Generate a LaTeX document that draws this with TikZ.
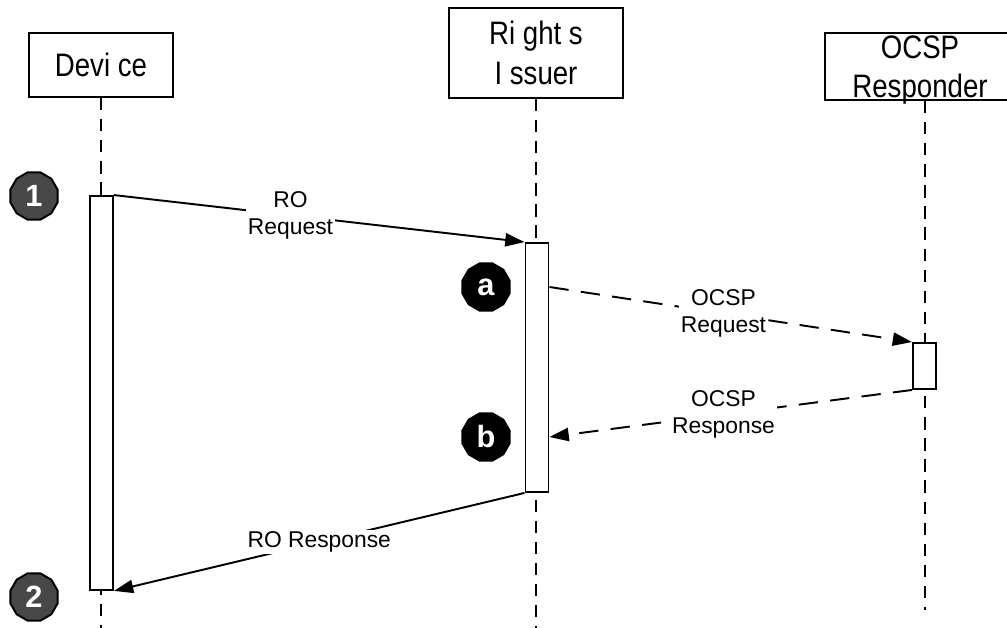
\documentclass[tikz,border=0pt]{standalone}
\usepackage{fontspec}
\setmainfont{Liberation Sans}
\newfontfamily\narrowsans[FakeStretch=0.85]{Liberation Sans}
\usetikzlibrary{arrows.meta,shapes.geometric}

\begin{document}
\begin{tikzpicture}[x=0.02cm,y=-0.02cm,line width=1.1pt,
  party/.style={draw,rectangle,inner sep=0pt,align=center,
    font=\narrowsans\fontsize{18.5}{22.7}\selectfont},
  bar/.style={draw,fill=white,rectangle,inner sep=0pt,minimum width=0.46cm},
  lifeline/.style={dash pattern=on 7pt off 5pt},
  msg/.style={-{Triangle[length=11pt,width=7.5pt]}},
  reply/.style={msg,dash pattern=on 11pt off 7pt},
  msglabel/.style={fill=white,inner sep=1pt,align=center,
    font=\fontsize{13}{15}\selectfont},
  numbadge/.style={regular polygon,regular polygon sides=12,draw,fill=black!72,
    text=white,minimum size=0.98cm,inner sep=0pt,
    font=\bfseries\fontsize{17.5}{17.5}\selectfont},
  letterbadge/.style={numbadge,fill=black}]
\useasboundingbox (0,0) rectangle (1007,628);
\clip (0,0) rectangle (1007,628);
% parties
\node[party,minimum width=2.88cm,minimum height=1.28cm] (dev) at (101,65) {Devi ce};
\node[party,minimum width=3.48cm,minimum height=1.8cm] (ri) at (536,53) {Ri ght s\\I ssuer};
\node[party,minimum width=4cm,minimum height=1.34cm] (ocsp) at (925,66.5) {};
\node[font=\narrowsans\fontsize{18.5}{22.7}\selectfont,align=center,inner sep=0pt]
  (ocsptext) at (920,70) {OCSP\\Responder};
\coordinate (floor) at (0,628);
\coordinate (stop) at (0,610);
\draw[lifeline] (dev.south) -- (dev.south |- floor);
\draw[lifeline] (ri.south) -- (ri.south |- floor);
\draw[lifeline] (ocsp.south) -- (ocsp.south |- stop);
% activations
\node[bar,minimum height=7.88cm] (devbar) at (101.5,393) {};
\node[bar,minimum height=4.98cm] (ribar) at (537,367.5) {};
\node[bar,minimum height=0.92cm] (ocspbar) at (924.5,366) {};
% steps
\node[numbadge] (s1) at (34,196) {1};
\node[numbadge] (s2) at (34,597) {2};
\node[letterbadge] (sa) at (486,287) {a};
\node[letterbadge] (sb) at (486,437) {b};
% messages
\draw[msg] (devbar.north east) -- node[msglabel,pos=.43] {RO\\Request} (ribar.north west);
\draw[reply] (ribar.east |- sa) -- node[msglabel,pos=.48] {OCSP\\Request} (ocspbar.north west);
\draw[reply] (ocspbar.south west) -- node[msglabel,pos=.52] {OCSP\\Response} (ribar.east |- sb);
\draw[msg] (ribar.south west) -- node[msglabel,pos=.5] {RO Response} (devbar.south east);
\end{tikzpicture}
\end{document}
